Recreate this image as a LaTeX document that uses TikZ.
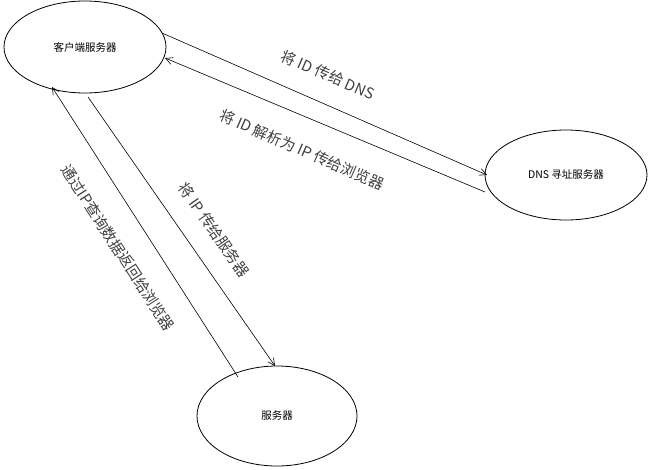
\documentclass[tikz,border=0pt]{standalone}
\usepackage{fontspec}
\setmainfont{Noto Sans CJK SC}
\usetikzlibrary{shapes.geometric,arrows.meta}
\begin{document}
\begin{tikzpicture}[x=1pt,y=-1pt,
  ell/.style={draw,ellipse,line width=0.8pt,font=\fontsize{10.5}{12}\selectfont},
  con/.style={draw,line width=0.6pt,-{Straight Barb[length=7pt,width=7pt]}},
  lab/.style={font=\fontsize{15}{17}\selectfont,text=black!75}]
\useasboundingbox (0,0) rectangle (652,469);
\node[ell,minimum width=162pt,minimum height=92pt] (c) at (85,47) {客户端服务器};
\node[ell,minimum width=162pt,minimum height=90pt] (d) at (566,175) {DNS 寻址服务器};
\node[ell,minimum width=160pt,minimum height=100pt] (s) at (277,416) {服务器};
\coordinate (c1) at (162,33);
\coordinate (d1) at (487,175);
\coordinate (d2) at (485,192);
\coordinate (c2) at (165,58);
\coordinate (c3) at (88,97);
\coordinate (s1) at (275,366);
\coordinate (s2) at (238,377);
\coordinate (c4) at (52,87);
\draw[con] (c1) -- (d1);
\draw[con] (d2) -- (c2);
\draw[con] (c3) -- (s1);
\draw[con] (s2) -- (c4);
\node[lab,rotate=-23.5] (l1) at (328,75) {将 ID 传给 DNS};
\node[lab,rotate=-23.5] (l2) at (302,150) {将 ID 解析为 IP 传给浏览器};
\node[lab,rotate=-55] (l3) at (214,230) {将 IP 传给服务器};
\node[lab,rotate=-57] (l4) at (118,248) {通过IP查询数据返回给浏览器};
\end{tikzpicture}
\end{document}
